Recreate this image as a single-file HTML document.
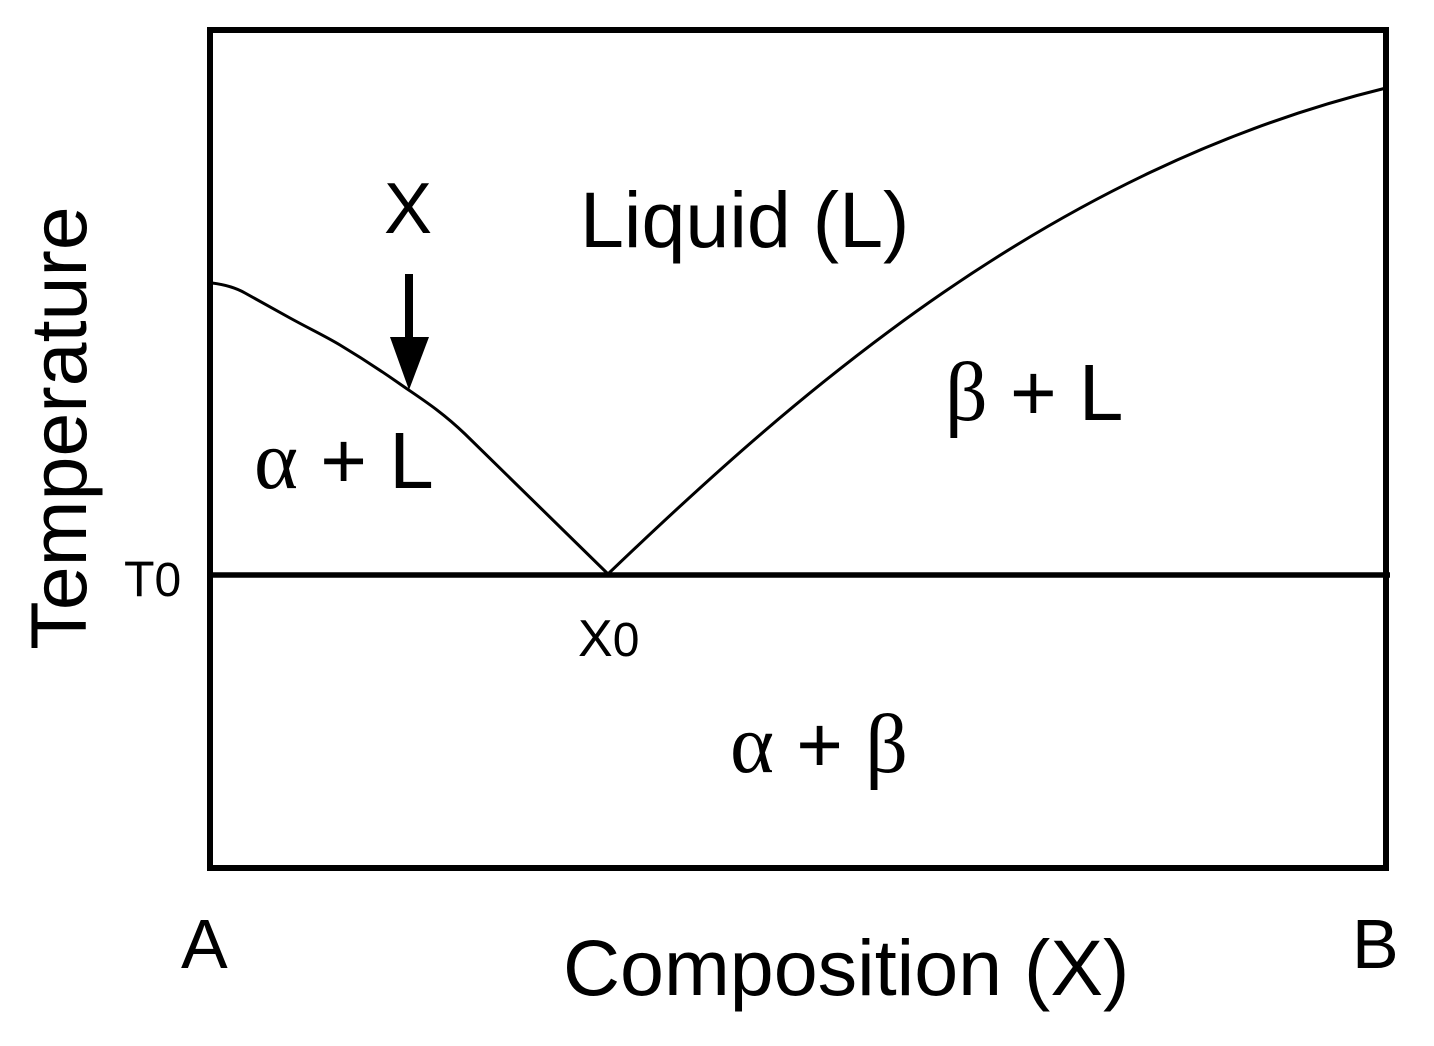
<!DOCTYPE html>
<html><head><style>
html,body{margin:0;padding:0;background:#fff;width:1434px;height:1046px;overflow:hidden}
svg text{font-family:"Liberation Sans",Arial,sans-serif;fill:#000}
.g{font-family:"Liberation Serif",serif}
</style></head><body>
<svg width="1434" height="1046" viewBox="0 0 1434 1046">
<rect x="210" y="30" width="1176" height="838" fill="none" stroke="#000" stroke-width="6"/>
<line x1="210" y1="575" x2="1390" y2="575" stroke="#000" stroke-width="5.5"/>
<path d="M212,283 C228,285 238,289 245,293 L290,318 C310,329 325,336 340,345 C360,357 380,370 400,384 C420,398 440,410 465,434 L608,574" fill="none" stroke="#000" stroke-width="3"/>
<path d="M608,574 C800,390 1050,170 1386,88" fill="none" stroke="#000" stroke-width="3"/>
<rect x="405" y="274" width="8" height="66" fill="#000"/>
<polygon points="390,337 429,337 409,390" fill="#000"/>
<text x="408" y="233" font-size="72" text-anchor="middle">X</text>
<text x="580" y="247" font-size="79">Liquid (L)</text>
<text x="945" y="420" font-size="80"><tspan class="g" font-size="84">β</tspan> + L</text>
<text x="254" y="488" font-size="80"><tspan class="g" font-size="84">α</tspan> + L</text>
<text x="730" y="772" font-size="80"><tspan class="g" font-size="84">α</tspan> + <tspan class="g" font-size="84">β</tspan></text>
<text x="124" y="596" font-size="50">T<tspan font-size="48">0</tspan></text>
<text x="578" y="656" font-size="52">X<tspan font-size="48">0</tspan></text>
<text x="181" y="968" font-size="70">A</text>
<text x="1352" y="968" font-size="70">B</text>
<text x="563" y="995" font-size="79">Composition (X)</text>
<text transform="translate(86,428) rotate(-90)" font-size="79" text-anchor="middle">Temperature</text>
</svg>
</body></html>
